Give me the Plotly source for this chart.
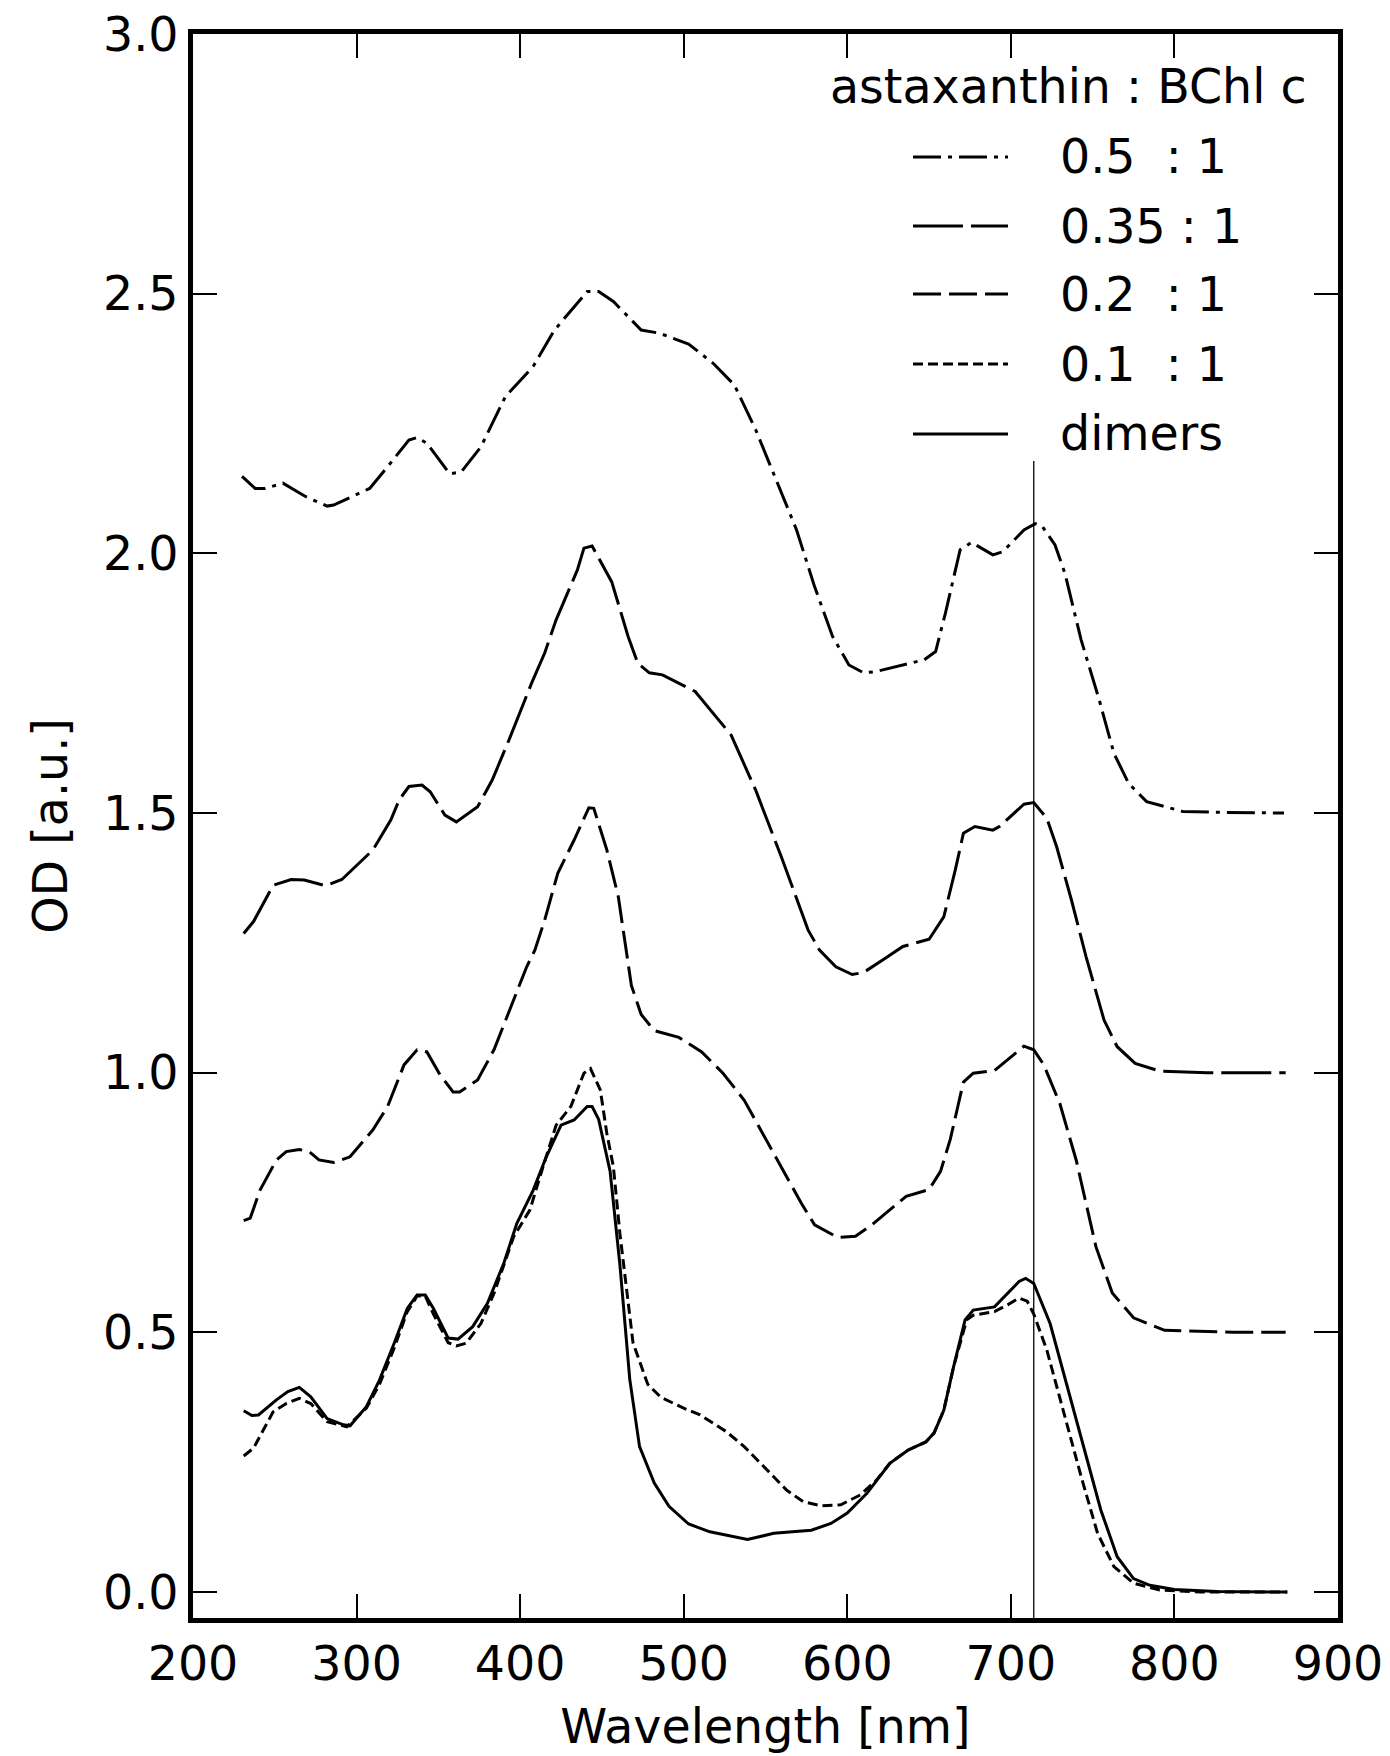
import plotly.graph_objects as go

# ---------------- data ----------------
nm_050 = [230, 238, 244, 255, 269, 282, 286, 308, 319, 332, 337, 343, 357, 364, 376, 391, 408, 421, 441, 448,
          457, 474, 485, 503, 518, 531, 544, 559, 569, 580, 591, 601, 610, 617, 634, 647, 654, 660, 669, 676,
          689, 695, 708, 715, 719, 727, 733, 743, 754, 763, 772, 783, 805, 831, 867]
od_050 = [2.148, 2.125, 2.125, 2.135, 2.109, 2.091, 2.093, 2.125, 2.167, 2.218, 2.223, 2.212, 2.153, 2.157, 2.205,
          2.302, 2.360, 2.430, 2.504, 2.504, 2.485, 2.430, 2.424, 2.403, 2.366, 2.324, 2.238, 2.122, 2.045, 1.936,
          1.840, 1.785, 1.770, 1.772, 1.785, 1.795, 1.811, 1.885, 2.007, 2.021, 1.997, 2.003, 2.045, 2.057, 2.053,
          2.016, 1.962, 1.833, 1.718, 1.615, 1.557, 1.522, 1.503, 1.501, 1.500]

nm_035 = [231, 237, 249, 260, 268, 281, 291, 310, 321, 326, 332, 340, 345, 354, 361, 374, 383, 394, 407, 415,
          422, 435, 439, 444, 456, 466, 472, 479, 487, 507, 529, 544, 560, 573, 576, 583, 593, 603, 610, 623,
          634, 650, 654, 659, 666, 671, 678, 689, 693, 708, 714, 722, 728, 737, 746, 757, 765, 776, 791, 820, 868]
od_035 = [1.268, 1.291, 1.361, 1.372, 1.371, 1.360, 1.372, 1.429, 1.487, 1.525, 1.551, 1.554, 1.541, 1.496, 1.483,
          1.512, 1.564, 1.647, 1.750, 1.808, 1.872, 1.968, 2.010, 2.014, 1.945, 1.840, 1.788, 1.770, 1.766, 1.734,
          1.650, 1.544, 1.413, 1.300, 1.275, 1.236, 1.204, 1.189, 1.193, 1.220, 1.243, 1.257, 1.275, 1.300, 1.390,
          1.461, 1.474, 1.467, 1.474, 1.517, 1.520, 1.490, 1.435, 1.333, 1.223, 1.101, 1.050, 1.018, 1.003, 1.000,
          1.000]

nm_020 = [231, 235, 241, 251, 257, 265, 271, 277, 286, 296, 310, 319, 329, 337, 343, 351, 359, 363, 374, 384,
          396, 404, 409, 415, 423, 433, 442, 445, 453, 460, 468, 474, 482, 497, 511, 524, 537, 561, 572, 580,
          594, 605, 615, 636, 650, 657, 663, 671, 677, 690, 708, 714, 720, 730, 740, 752, 762, 775, 794, 836, 868]
od_020 = [0.715, 0.720, 0.774, 0.832, 0.848, 0.852, 0.848, 0.832, 0.827, 0.838, 0.890, 0.935, 1.015, 1.044, 1.040,
          0.996, 0.963, 0.963, 0.986, 1.044, 1.140, 1.204, 1.236, 1.294, 1.384, 1.448, 1.510, 1.509, 1.429, 1.339,
          1.168, 1.112, 1.081, 1.068, 1.040, 0.999, 0.947, 0.810, 0.748, 0.707, 0.683, 0.685, 0.707, 0.762, 0.775,
          0.810, 0.872, 0.982, 0.999, 1.004, 1.051, 1.044, 1.016, 0.940, 0.831, 0.665, 0.576, 0.528, 0.504, 0.500,
          0.500]

nm_010 = [231, 237, 249, 257, 265, 272, 282, 294, 306, 314, 323, 331, 337, 342, 347, 356, 361, 367, 376, 384,
          396, 406, 414, 422, 431, 439, 443, 449, 453, 457, 461, 465, 469, 478, 486, 500, 510, 526, 537, 551,
          563, 573, 584, 596, 608, 618, 626, 637, 648, 653, 659, 665, 673, 677, 690, 698, 705, 710, 714, 722,
          732, 743, 753, 763, 775, 791, 816, 869]
od_010 = [0.262, 0.277, 0.347, 0.363, 0.373, 0.363, 0.328, 0.318, 0.354, 0.400, 0.470, 0.540, 0.570, 0.570, 0.535,
          0.480, 0.474, 0.479, 0.517, 0.575, 0.684, 0.736, 0.819, 0.899, 0.935, 0.999, 1.008, 0.967, 0.883, 0.819,
          0.690, 0.580, 0.480, 0.400, 0.375, 0.354, 0.341, 0.309, 0.280, 0.235, 0.196, 0.174, 0.166, 0.168, 0.187,
          0.216, 0.248, 0.273, 0.289, 0.306, 0.350, 0.434, 0.524, 0.533, 0.540, 0.553, 0.566, 0.560, 0.535, 0.466,
          0.350, 0.222, 0.113, 0.049, 0.017, 0.004, 0.000, 0.000]

nm_dim = [231, 236, 240, 251, 258, 265, 272, 282, 292, 296, 306, 314, 323, 331, 337, 342, 347, 356, 362, 371,
          380, 390, 398, 408, 416, 425, 433, 441, 444, 448, 455, 461, 467, 473, 482, 491, 503, 516, 539, 555,
          578, 590, 600, 612, 626, 637, 648, 653, 659, 665, 672, 677, 690, 698, 705, 709, 714, 724, 734, 745,
          755, 765, 775, 785, 800, 826, 869]
od_dim = [0.349, 0.340, 0.341, 0.370, 0.386, 0.394, 0.376, 0.334, 0.322, 0.320, 0.357, 0.408, 0.479, 0.546, 0.572,
          0.572, 0.546, 0.489, 0.487, 0.511, 0.556, 0.633, 0.710, 0.774, 0.838, 0.899, 0.909, 0.935, 0.935, 0.910,
          0.810, 0.630, 0.410, 0.280, 0.210, 0.165, 0.131, 0.116, 0.101, 0.113, 0.119, 0.132, 0.152, 0.190, 0.248,
          0.273, 0.289, 0.306, 0.350, 0.434, 0.524, 0.543, 0.549, 0.575, 0.598, 0.604, 0.594, 0.517, 0.402, 0.273,
          0.158, 0.068, 0.026, 0.013, 0.005, 0.001, 0.000]

series_labels = ["0.5\u00a0\u00a0: 1", "0.35 : 1", "0.2\u00a0\u00a0: 1", "0.1\u00a0\u00a0: 1", "dimers"]
legend_title = "astaxanthin : BChl c"
marker_wavelength = 714
x_ticks = [200, 300, 400, 500, 600, 700, 800, 900]
y_ticks = [0.0, 0.5, 1.0, 1.5, 2.0, 2.5, 3.0]

# ---------------- figure ----------------
OFFX, OFFY = 8, 8              # page body margin around the figure
W, H = 1390 - 8, 1756 - 8
# plot area wanted on the page: left 193, top 34, right 1338, bottom 1618
ML, MT = 193 - OFFX, 34 - OFFY
MR = W - (1338 - OFFX)
MB = H - (1618 - OFFY)
FONT = "DejaVu Sans"
FS = 47.5

def px(X):   # page pixel -> paper x
    return (X - OFFX - ML) / (W - ML - MR)

def py(Y):   # page pixel -> paper y
    return (H - MB - (Y - OFFY)) / (H - MT - MB)

dashes = ["28px,7px,4px,7px", "50px,8px", "28px,8px", "10px,5px", "solid"]
xs = [nm_050, nm_035, nm_020, nm_010, nm_dim]
ys = [od_050, od_035, od_020, od_010, od_dim]

fig = go.Figure()
for x, y, d, name in zip(xs, ys, dashes, series_labels):
    fig.add_trace(go.Scatter(x=x, y=y, mode="lines", name=name,
                             line=dict(color="black", width=3, dash=d),
                             showlegend=False))

# vertical marker line
fig.add_shape(type="line", xref="x", yref="paper", x0=marker_wavelength, x1=marker_wavelength,
              y0=0, y1=py(461), line=dict(color="black", width=1.3))

# manual legend
fig.add_annotation(xref="paper", yref="paper", x=px(1068), y=py(86), text=legend_title,
                   showarrow=False, xanchor="center", yanchor="middle",
                   font=dict(family=FONT, size=FS, color="black"))
entry_y = [157, 226, 294, 364, 434]
for ey, d, name in zip(entry_y, dashes, series_labels):
    fig.add_shape(type="line", xref="paper", yref="paper", x0=px(913), x1=px(1008),
                  y0=py(ey), y1=py(ey), line=dict(color="black", width=3, dash=d))
    fig.add_annotation(xref="paper", yref="paper", x=px(1058), y=py(ey), text=name,
                       showarrow=False, xanchor="left", yanchor="middle",
                       font=dict(family=FONT, size=FS, color="black"))

axis_common = dict(showgrid=False, zeroline=False, showline=True, linecolor="black", linewidth=5,
                   mirror="ticks", ticks="inside", ticklen=24, tickwidth=2, tickcolor="black",
                   ticklabeloverflow="allow", automargin=False,
                   tickfont=dict(family=FONT, size=FS, color="black"))

fig.update_xaxes(range=[200, 900], tickvals=x_ticks, ticktext=[str(v) for v in x_ticks],
                 title=dict(text="Wavelength [nm]", font=dict(family=FONT, size=FS, color="black"), standoff=21),
                 **axis_common)
fig.update_yaxes(range=[-0.05, 3.0], tickvals=y_ticks, tickformat=".1f",
                 title=dict(text="OD [a.u.]", font=dict(family=FONT, size=FS, color="black"), standoff=22),
                 **axis_common)

fig.update_layout(width=W, height=H, autosize=False,
                  margin=dict(l=ML, r=MR, t=MT, b=MB, pad=0),
                  plot_bgcolor="white", paper_bgcolor="white",
                  font=dict(family=FONT, size=FS, color="black"))

fig.write_html("out.html")
